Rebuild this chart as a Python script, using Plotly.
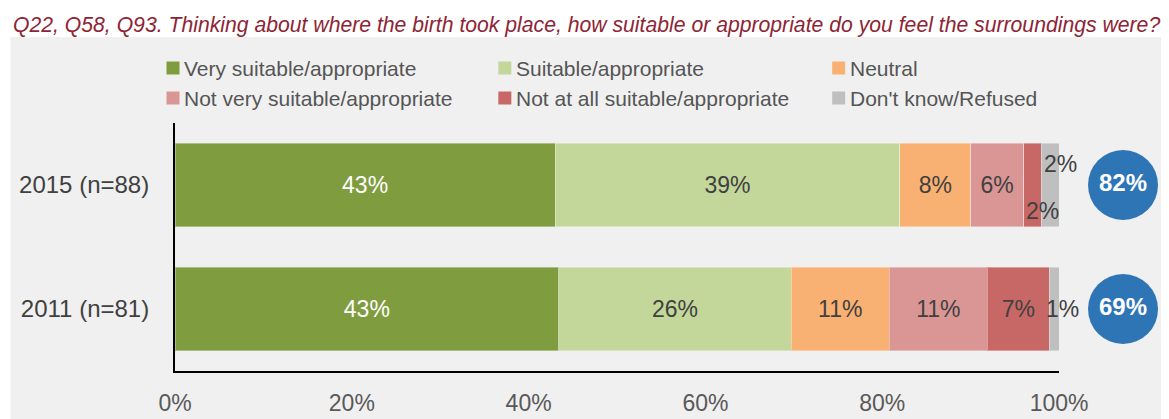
import plotly.graph_objects as go

# ---------------- data ----------------
categories = ["2011 (n=81)", "2015 (n=88)"]
series_names = [
    "Very suitable/appropriate",
    "Suitable/appropriate",
    "Neutral",
    "Not very suitable/appropriate",
    "Not at all suitable/appropriate",
    "Don't know/Refused",
]
very_suitable = [43.4, 43.0]
suitable = [26.3, 39.0]
neutral = [11.1, 8.0]
not_very = [11.1, 6.0]
not_at_all = [7.0, 2.0]
dont_know = [1.1, 2.0]
totals = [69, 82]
x_ticks = [0, 20, 40, 60, 80, 100]

series_values = [very_suitable, suitable, neutral, not_very, not_at_all, dont_know]
colors = ["#7F9D3F", "#C4D79B", "#F9B073", "#DA9695", "#C86866", "#BFBFBF"]
text_colors = ["#FFFFFF", "#404040", "#404040", "#404040", "#404040", "#404040"]

FONT = "Liberation Sans, Arial, sans-serif"
PAGE_W, PAGE_H = 1169, 419
OFF = 8  # default body margin of the html page
W, H = PAGE_W - OFF, PAGE_H - OFF

# page-pixel geometry
L, R_AX, R_PLOT, T, B = 174.5, 1059, 1163, 123, 371


def px_x(x):
    return (x - L) / (R_PLOT - L)


def px_y(y):
    return (B - y) / (B - T)


fig = go.Figure()

# small labels drawn as annotations (offsets in px from segment middle)
small_label_offsets = {
    (1, 5): (10, 21),    # 2015 Don't know, above right
    (1, 4): (10, -26),   # 2015 Not at all, below
    (0, 5): (8, 0),      # 2011 Don't know
}

annotations = []
cum = [0.0] * len(categories)
for si, (name, vals) in enumerate(zip(series_names, series_values)):
    texts = []
    for ci, v in enumerate(vals):
        if (ci, si) in small_label_offsets:
            texts.append("")
            xs, ys = small_label_offsets[(ci, si)]
            annotations.append(dict(
                x=cum[ci] + v / 2, y=categories[ci], xref="x", yref="y",
                text=f"{round(v)}%", showarrow=False, xshift=xs, yshift=ys,
                font=dict(family=FONT, size=23, color="#404040"),
                xanchor="center", yanchor="middle",
            ))
        else:
            texts.append(f"{round(v)}%")
        cum[ci] += v
    fig.add_trace(go.Bar(
        y=categories, x=vals, orientation="h", name=name,
        marker=dict(color=colors[si], line=dict(color="rgba(255,255,255,0.35)", width=1)),
        text=texts, textposition="inside", insidetextanchor="middle",
        textfont=dict(family=FONT, size=23, color=text_colors[si]),
        width=0.67, showlegend=False, hoverinfo="skip",
        constraintext="none",
    ))

# total circles on their own small axis to the right
fig.add_trace(go.Scatter(
    x=[0, 0], y=categories, xaxis="x2", yaxis="y", mode="markers+text",
    marker=dict(size=70, color="#2E75B6", line=dict(width=0)),
    text=[f"<b>{t}%</b>" for t in totals], textposition="middle center",
    textfont=dict(family=FONT, size=24, color="#FFFFFF"),
    cliponaxis=False, showlegend=False, hoverinfo="skip",
))

shapes = [
    # gray panel
    dict(type="rect", xref="paper", yref="paper",
         x0=px_x(10), x1=px_x(PAGE_W + 20), y0=px_y(37), y1=px_y(PAGE_H + 20),
         fillcolor="#F0F0F0", line=dict(width=0), layer="below"),
]

# custom legend
col_x = [166, 498, 832]
row_y = [68, 98]
sq = 13
for i, name in enumerate(series_names):
    cx = col_x[i % 3]
    cy = row_y[i // 3]
    shapes.append(dict(type="rect", xref="paper", yref="paper",
                       x0=px_x(cx), x1=px_x(cx + sq),
                       y0=px_y(cy + sq / 2), y1=px_y(cy - sq / 2),
                       fillcolor=colors[i], line=dict(width=0)))
    annotations.append(dict(
        x=px_x(cx + sq + 3), y=px_y(cy), xref="paper", yref="paper",
        text=name, showarrow=False, xanchor="left", yanchor="middle",
        font=dict(family=FONT, size=21, color="#555555"),
    ))

# title
annotations.append(dict(
    x=px_x(10), y=px_y(25), xref="paper", yref="paper",
    text="<i>Q22, Q58, Q93. Thinking about where the birth took place, how suitable or appropriate do you feel the surroundings were?</i>",
    showarrow=False, xanchor="left", yanchor="middle",
    font=dict(family=FONT, size=21.2, color="#8E2435"),
))

fig.update_layout(
    template="none",
    width=W, height=H,
    margin=dict(l=L - OFF, r=PAGE_W - R_PLOT, t=T - OFF, b=PAGE_H - B, pad=0, autoexpand=False),
    barmode="stack",
    paper_bgcolor="#FFFFFF",
    plot_bgcolor="rgba(0,0,0,0)",
    shapes=shapes,
    annotations=annotations,
    showlegend=False,
    xaxis=dict(
        domain=[0, px_x(R_AX)],
        range=[0, 100], tickvals=x_ticks, ticktext=[f"{t}%" for t in x_ticks],
        showgrid=False, zeroline=False, showline=True, linecolor="#000000", linewidth=1.5,
        ticks="", ticklabelstandoff=11, automargin=False,
        tickfont=dict(family=FONT, size=23, color="#595959"),
        fixedrange=True,
    ),
    xaxis2=dict(
        domain=[px_x(1088), px_x(1158)], range=[-1, 1], anchor="y",
        visible=False, fixedrange=True,
    ),
    yaxis=dict(
        categoryorder="array", categoryarray=categories,
        range=[-0.5, 1.5],
        showgrid=False, zeroline=False, showline=True, linecolor="#000000", linewidth=2,
        ticks="", ticklabelstandoff=19, automargin=False,
        tickfont=dict(family=FONT, size=24, color="#404040"),
        fixedrange=True,
    ),
)

fig.write_html("out.html")
